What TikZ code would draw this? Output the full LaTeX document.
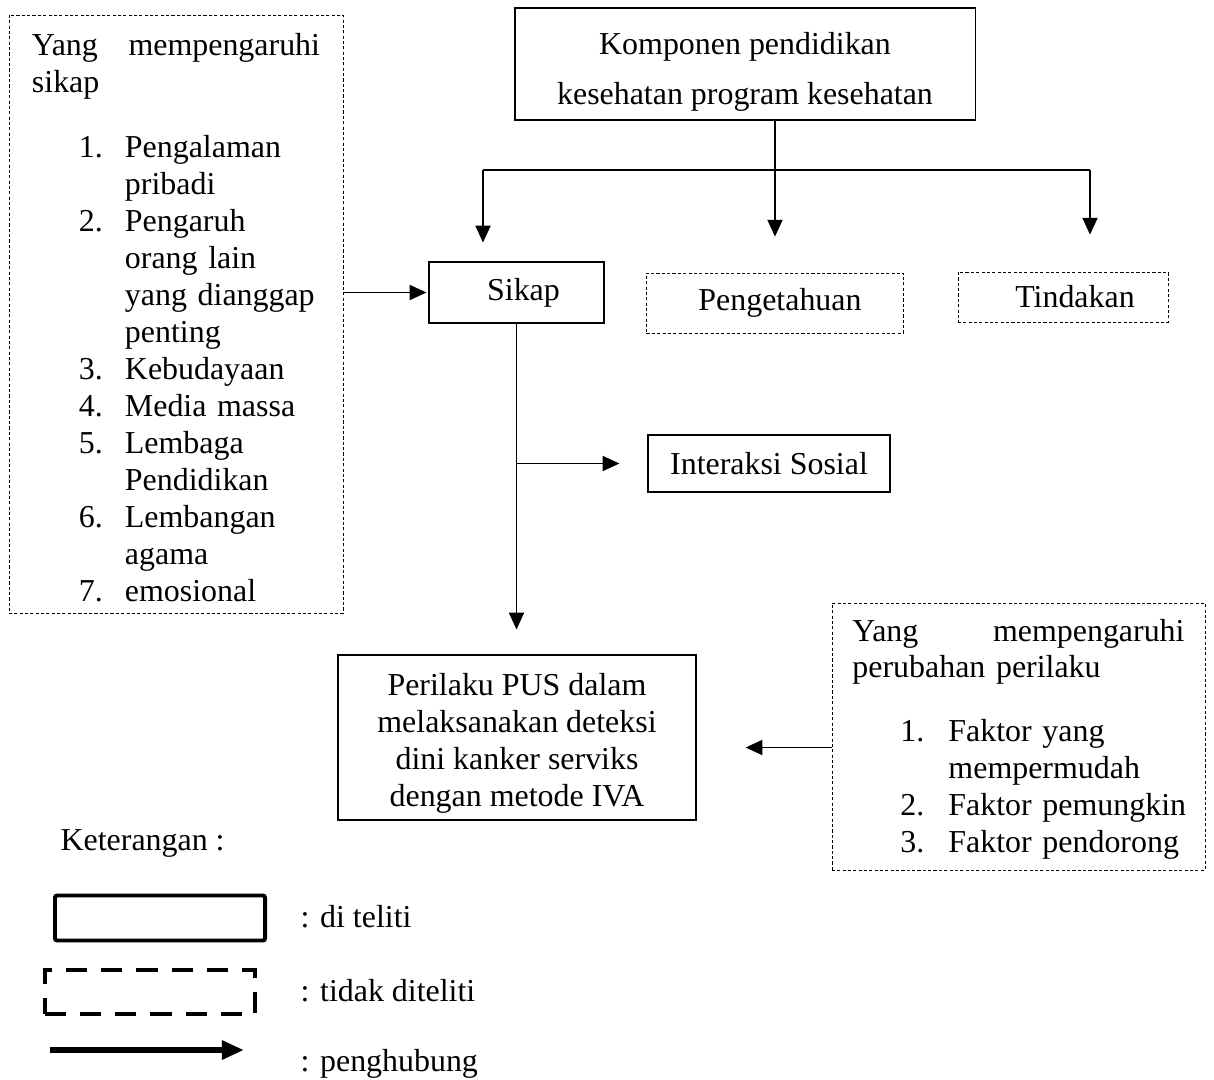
\documentclass[tikz,border=0pt]{standalone}
\usepackage{fontspec}
\setmainfont{Liberation Serif}
\usetikzlibrary{arrows.meta,positioning}
\begin{document}
\begin{tikzpicture}[x=0.025cm,y=-0.025cm,
font=\fontsize{22.7}{26.3}\selectfont,
>={Triangle[length=0.42cm,width=0.38cm]},
line width=0.9pt,
square/.style={
% The shape:
rectangle,
draw=black,
line width=0.8pt,
inner sep=0pt,
align=center
},
dbox/.style={
rectangle,
draw=black,
line width=0.6pt,
dash pattern=on 2.2pt off 1.6pt,
inner sep=0pt,
align=center
},
label/.style={
inner sep=0pt,
anchor=west
}
]
\useasboundingbox (0,0) rectangle (1214,1079);
% Boxes:
\node (komp) [square, minimum width=11.5cm, minimum height=2.8cm] at (745,64) {\rule{0pt}{0.93cm}Komponen pendidikan\\[0.325cm]kesehatan program kesehatan};
\node (sikap) [square, minimum width=4.375cm, minimum height=1.525cm] at (516.5,292.5) {\hspace*{0.35cm}Sikap};
\node (tahu) [dbox, minimum width=6.425cm, minimum height=1.5cm] at (775,303) {\hspace*{0.25cm}Pengetahuan};
\node (tindak) [dbox, minimum width=5.25cm, minimum height=1.25cm] at (1063,297) {\hspace*{0.6cm}Tindakan};
\node (sosial) [square, minimum width=6.05cm, minimum height=1.425cm] at (769,463.5) {Interaksi Sosial};
\node (perilaku) [square, minimum width=8.95cm, minimum height=4.125cm] at (517,737.5) {\rule{0pt}{0.85cm}Perilaku PUS dalam\\melaksanakan deteksi\\dini kanker serviks\\dengan metode IVA};
\node (sikapf) [dbox, minimum width=8.35cm, minimum height=14.95cm, text width=7.2cm, align=left] at (176,314) {\rule{0pt}{1cm}Yang \hfill mempengaruhi\\
sikap\\[0.7cm]
\hspace*{1.175cm}\begin{tabular}[t]{@{}p{1.15cm}@{}l@{}}
1. & Pengalaman\\
 & pribadi\\
2. & Pengaruh\\
 & orang lain\\
 & yang dianggap\\
 & penting\\
3. & Kebudayaan\\
4. & Media massa\\
5. & Lembaga\\
 & Pendidikan\\
6. & Lembangan\\
 & agama\\
7. & emosional
\end{tabular}};
\node (ubah) [dbox, minimum width=9.325cm, minimum height=6.675cm, text width=8.3cm, align=left] at (1018.5,736.5) {\rule{0pt}{0.8cm}Yang \hfill mempengaruhi\\
perubahan perilaku\\[0.675cm]
\hspace*{1.2cm}\begin{tabular}[t]{@{}p{1.2cm}@{}l@{}}
1. & Faktor yang\\
 & mempermudah\\
2. & Faktor pemungkin\\
3. & Faktor pendorong
\end{tabular}};
% Connectors:
\coordinate (bl) at (483,170);
\coordinate (br) at (1090,170);
\draw (bl) -- (br);
\path (bl) edge[->, shorten >=0.475cm] (bl |- sikap.north)
 (br) edge[->, shorten >=0.925cm] (br |- tindak.north)
 (komp.south -| tahu.north) edge[->, shorten >=0.9cm] (tahu.north)
 (sikapf.east |- sikap.west) edge[->, shorten >=0.05cm] (sikap.west)
 (sikap.south) edge[->, shorten >=0.625cm] (sikap.south |- perilaku.north)
 (sikap.south |- sosial.west) edge[->, shorten >=0.7cm] (sosial.west)
 ([yshift=-0.275cm]ubah.west) edge[->, shorten >=1.225cm] ([yshift=-0.275cm]ubah.west -| perilaku.east);
% Keterangan:
\node (ket) [label] at (60,843) {Keterangan :};
\node (teliti) [rectangle, draw=black, line width=2.8pt, rounded corners=1.5pt, minimum width=5.25cm, minimum height=1.125cm] at (160,918) {};
\node (tidak) [rectangle, draw=black, line width=2.8pt, dash pattern=on 15pt off 10pt, minimum width=5.25cm, minimum height=1.1cm] at (150,992) {};
\coordinate (pa) at (50,1050);
\coordinate (pb) at (244,1050);
\draw[line width=4.2pt, -{Triangle[length=0.55cm,width=0.45cm]}] (pa) -- (pb);
\node (lteliti) [label] at (300,917) {: di teliti};
\node (ltidak) [label] at (300,991) {: tidak diteliti};
\node (lhubung) [label] at (300,1064) {: penghubung};
\end{tikzpicture}
\end{document}
